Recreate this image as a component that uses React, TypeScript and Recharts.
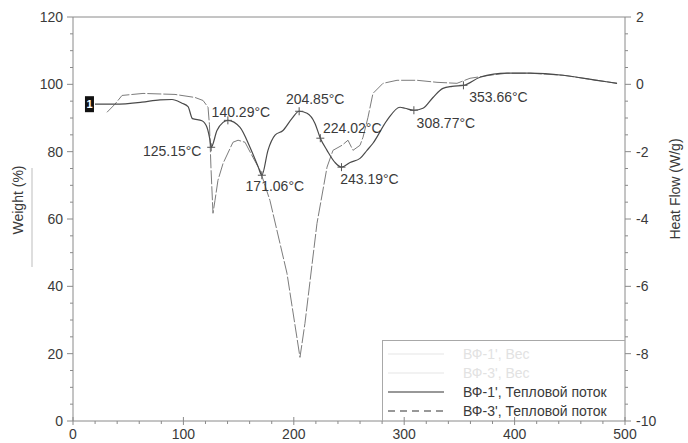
import React from 'react';
import { LineChart, Line, XAxis, YAxis, ReferenceDot, ReferenceLine } from 'recharts';

// ВФ-1', Тепловой поток (solid)
const vf1Temp = [19.9, 38, 62.5, 78.8, 89.7, 98.7, 104.2, 108.2, 116.8, 121.4, 124.1, 125.15, 130.4, 135.9, 140.29, 151.3, 160.3, 167.6, 171.06, 176.6, 183.0, 190.2, 198.4, 204.85, 212.0, 219.2, 224.02, 230.1, 237.3, 243.19, 251, 260, 266.3, 271.7, 284.4, 296.2, 300.7, 308.77, 317.0, 326.1, 335.1, 343.3, 353.66, 368.7, 393.1, 414, 443.8, 474.6, 492.8];
const vf1Flow = [-0.59, -0.59, -0.53, -0.46, -0.45, -0.56, -0.66, -1.02, -1.08, -1.28, -1.66, -1.87, -1.37, -1.13, -1.07, -1.28, -1.87, -2.44, -2.7, -1.96, -1.51, -1.37, -1.01, -0.8, -0.86, -1.16, -1.6, -1.96, -2.32, -2.46, -2.32, -2.2, -1.96, -1.75, -1.07, -0.68, -0.71, -0.77, -0.71, -0.39, -0.12, -0.06, -0.03, 0.21, 0.33, 0.33, 0.27, 0.12, 0.03];

// ВФ-3', Тепловой поток (dashed)
const vf3Temp = [30.8, 38, 44.4, 63.4, 92.4, 110.5, 117.8, 122.3, 123.6, 125.0, 126.8, 128.6, 131.3, 135.9, 144.9, 149.5, 155.8, 163.0, 169.4, 173.9, 178.4, 193.8, 205.6, 210.1, 221.0, 230.1, 235.5, 243.7, 249.1, 253.6, 260.0, 262.7, 267.2, 271.7, 280.8, 293.5, 311.6, 329.7, 347.8, 359.6, 377.7, 393.1, 414, 443.8, 474.6, 492.8];
const vf3Flow = [-0.83, -0.59, -0.33, -0.27, -0.3, -0.39, -0.48, -0.68, -1.2, -2.5, -3.83, -3.45, -2.85, -2.35, -1.72, -1.66, -1.72, -2.17, -2.55, -3.0, -3.45, -5.61, -8.11, -7.1, -4.13, -2.46, -1.96, -1.81, -1.66, -1.96, -1.81, -1.57, -0.98, -0.27, 0.03, 0.12, 0.12, 0.06, 0.03, 0.18, 0.27, 0.33, 0.33, 0.27, 0.12, 0.03];

// peak annotations (temperature, heat flow, label offset)
const peakTemps = [125.15, 140.29, 171.06, 204.85, 224.02, 243.19, 308.77, 353.66];
const peakFlows = [-1.87, -1.07, -2.7, -0.8, -1.6, -2.46, -0.77, -0.03];
const peakDx = [-39, 13, 13, 16, 32, 28, 32, 35];
const peakDy = [4, -8, 11, -12, -10, 12, 13, 12];

const xMajor = [0, 100, 200, 300, 400, 500];
const weightMajor = [0, 20, 40, 60, 80, 100, 120];
const flowMajor = [-10, -8, -6, -4, -2, 0, 2];

const legendNames = ["ВФ-1', Вес", "ВФ-3', Вес", "ВФ-1', Тепловой поток", "ВФ-3', Тепловой поток"];

const withMinors = (majors: number[], parts: number) => {
  const out: number[] = [];
  for (let i = 0; i < majors.length - 1; i++) {
    const step = (majors[i + 1] - majors[i]) / parts;
    for (let j = 0; j < parts; j++) out.push(+(majors[i] + j * step).toFixed(3));
  }
  out.push(majors[majors.length - 1]);
  return out;
};

const vf1Data = vf1Temp.map((t, i) => ({ t, hf: vf1Flow[i] }));
const vf3Data = vf3Temp.map((t, i) => ({ t, hf: vf3Flow[i] }));

const FONT = '"Liberation Sans", Arial, sans-serif';
const AXIS = '#8a8a8a';
const TEXT = '#3a3a3a';

const LeftTick = ({ x, y, payload }: any) => {
  const major = weightMajor.includes(payload.value);
  return (
    <g>
      <line x1={x} x2={x - (major ? 6 : 3)} y1={y} y2={y} stroke={AXIS} />
      {major && (
        <text x={x - 10} y={y} dy={5} textAnchor="end" fontSize={14} fill={TEXT} fontFamily={FONT}>
          {payload.value}
        </text>
      )}
    </g>
  );
};

const RightTick = ({ x, y, payload }: any) => {
  const major = flowMajor.includes(payload.value);
  return (
    <g>
      <line x1={x} x2={x + (major ? 6 : 3)} y1={y} y2={y} stroke={AXIS} />
      {major && (
        <text x={x + 11} y={y} dy={5} textAnchor="start" fontSize={14} fill={TEXT} fontFamily={FONT}>
          {payload.value}
        </text>
      )}
    </g>
  );
};

const BottomTick = ({ x, y, payload }: any) => {
  const major = xMajor.includes(payload.value);
  return (
    <g>
      <line x1={x} x2={x} y1={major ? y - 4 : y} y2={y + (major ? 4 : 3)} stroke={AXIS} />
      {major && (
        <text x={x} y={y + 18} textAnchor="middle" fontSize={14} fill={TEXT} fontFamily={FONT}>
          {payload.value}
        </text>
      )}
    </g>
  );
};

const PeakMark = (dx: number, dy: number, label: string) => (props: any) => {
  const { cx, cy } = props;
  return (
    <g>
      <line x1={cx - 4} x2={cx + 4} y1={cy} y2={cy} stroke="#555" />
      <line x1={cx} x2={cx} y1={cy - 4} y2={cy + 4} stroke="#555" />
      <text x={cx + dx} y={cy + dy} dy={5} textAnchor="middle" fontSize={14} fill={TEXT} fontFamily={FONT}>
        {label}
      </text>
    </g>
  );
};

const CurveTag = (props: any) => {
  const { cx, cy } = props;
  return (
    <g>
      <rect x={cx - 10} y={cy - 8} width={9} height={16} fill="#111" />
      <text x={cx - 5.5} y={cy} dy={4} textAnchor="middle" fontSize={11} fontWeight="bold" fill="#fff" fontFamily={FONT}>
        1
      </text>
    </g>
  );
};

const LegendBox = () => (
  <div
    style={{
      position: 'absolute',
      left: 382,
      top: 340,
      width: 242,
      height: 80,
      border: '1px solid #a8a8a8',
      borderRight: 'none',
      borderBottom: 'none',
      fontFamily: FONT,
      fontSize: 14,
    }}
  >
    <svg width={242} height={80} style={{ position: 'absolute', left: 0, top: 0 }}>
      {legendNames.map((name, i) => {
        const y = 13 + i * 19;
        const faint = i < 2;
        return (
          <g key={name}>
            <line
              x1={5}
              x2={61}
              y1={y}
              y2={y}
              stroke={faint ? '#e6e6e6' : '#333'}
              strokeWidth={1.2}
              strokeDasharray={i === 3 ? '7 5' : undefined}
            />
            <text x={80} y={y} dy={5} fill={faint ? '#e2e2e2' : TEXT} fontSize={14} fontFamily={FONT}>
              {name}
            </text>
          </g>
        );
      })}
    </svg>
  </div>
);

export default function App() {
  return (
    <div style={{ position: 'absolute', left: 0, top: 0, width: 688, height: 443, background: '#fff' }}>
      <LineChart width={688} height={443} margin={{ top: 17, right: 0, bottom: 0, left: 0 }}>
        <XAxis
          dataKey="t"
          type="number"
          domain={[0, 500]}
          ticks={withMinors(xMajor, 5)}
          interval={0}
          allowDataOverflow
          height={22}
          stroke={AXIS}
          tickSize={0}
          tickMargin={0}
          tickLine={false}
          tick={<BottomTick />}
        />
        <YAxis
          yAxisId="w"
          orientation="left"
          type="number"
          domain={[0, 120]}
          allowDataOverflow
          ticks={withMinors(weightMajor, 4)}
          interval={0}
          width={73}
          stroke={AXIS}
          tickSize={0}
          tickMargin={0}
          tickLine={false}
          tick={<LeftTick />}
          label={{
            content: ({ viewBox }: any) => (
              <g>
                <text
                  transform={`translate(${viewBox.x + 23},${viewBox.y + 183}) rotate(-90)`}
                  textAnchor="middle"
                  fontSize={14}
                  fill={TEXT}
                  fontFamily={FONT}
                >
                  Weight (%)
                </text>
                <line x1={viewBox.x + 32} x2={viewBox.x + 32} y1={viewBox.y + 151} y2={viewBox.y + 250} stroke="#bdbdbd" />
              </g>
            ),
          }}
        />
        <YAxis
          yAxisId="hf"
          orientation="right"
          type="number"
          domain={[-10, 2]}
          allowDataOverflow
          ticks={withMinors(flowMajor, 4)}
          interval={0}
          width={63}
          stroke={AXIS}
          tickSize={0}
          tickMargin={0}
          tickLine={false}
          tick={<RightTick />}
          label={{
            content: ({ viewBox }: any) => (
              <text
                transform={`translate(${viewBox.x + 55},${viewBox.y + 172}) rotate(-90)`}
                textAnchor="middle"
                fontSize={14}
                fill={TEXT}
                fontFamily={FONT}
              >
                Heat Flow (W/g)
              </text>
            ),
          }}
        />
        <ReferenceLine yAxisId="w" y={120} stroke={AXIS} />
        <Line
          yAxisId="hf"
          data={vf3Data}
          dataKey="hf"
          type="linear"
          stroke="#7c7c7c"
          strokeWidth={1}
          strokeDasharray="14 2"
          dot={false}
          isAnimationActive={false}
        />
        <Line
          yAxisId="hf"
          data={vf1Data}
          dataKey="hf"
          type="monotone"
          stroke="#4a4a4a"
          strokeWidth={1.2}
          dot={false}
          isAnimationActive={false}
        />
        {peakTemps.map((t, i) => (
          <ReferenceDot
            key={t}
            yAxisId="hf"
            x={t}
            y={peakFlows[i]}
            shape={PeakMark(peakDx[i], peakDy[i], `${t.toFixed(2)}°C`)}
          />
        ))}
        <ReferenceDot yAxisId="hf" x={vf1Temp[0]} y={vf1Flow[0]} shape={CurveTag} />
      </LineChart>
      <LegendBox />
    </div>
  );
}
